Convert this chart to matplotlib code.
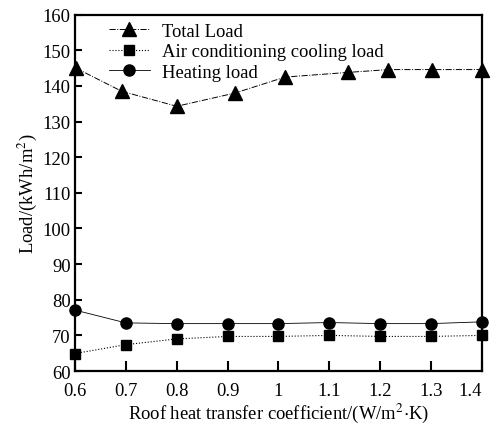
import matplotlib.pyplot as plt

plt.rcParams['font.family'] = ['Liberation Serif', 'DejaVu Serif']
plt.rcParams['mathtext.fontset'] = 'stix'

# data
x_ticks = [0.6, 0.7, 0.8, 0.9, 1.0, 1.1, 1.2, 1.3, 1.4]
x_tick_labels = ['0.6', '0.7', '0.8', '0.9', '1', '1.1', '1.2', '1.3', '1.4']
x_total = [0.602, 0.692, 0.80, 0.914, 1.013, 1.136, 1.216, 1.301, 1.4]
total_load = [145.0, 138.5, 134.3, 138.0, 142.5, 143.8, 144.6, 144.6, 144.6]
x_cool = [0.6, 0.7, 0.8, 0.9, 1.0, 1.1, 1.2, 1.3, 1.4]
cooling_load = [64.9, 67.4, 69.0, 69.7, 69.7, 70.0, 69.7, 69.7, 70.0]
x_heat = [0.6, 0.7, 0.8, 0.9, 1.0, 1.1, 1.2, 1.3, 1.4]
heating_load = [77.1, 73.5, 73.3, 73.3, 73.3, 73.6, 73.3, 73.3, 73.8]

fs = 13.4

fig = plt.figure(figsize=(4.91, 4.27), dpi=100)
ax = fig.add_axes([0.1527, 0.1288, 0.829, 0.8344])

ax.plot(x_total, total_load, linestyle='-.', color='black', linewidth=0.7,
        marker='^', markersize=10.5, label='Total Load', clip_on=False)
ax.plot(x_cool, cooling_load, linestyle=':', color='black', linewidth=0.8,
        marker='s', markersize=7.5, label='Air conditioning cooling load', clip_on=False)
ax.plot(x_heat, heating_load, linestyle='-', color='black', linewidth=0.6,
        marker='o', markersize=8, label='Heating load', clip_on=False)

ax.set_xlim(0.6, 1.4)
ax.set_ylim(60, 160)
ax.set_xticks(x_ticks)
ax.set_xticklabels(x_tick_labels)
ax.set_yticks(range(60, 161, 10))
ax.tick_params(direction='in', labelsize=fs, width=1.5, top=False, right=False)
ax.tick_params(axis='x', length=7, pad=8)
ax.tick_params(axis='y', length=5, pad=3)
# last label sits inside the right edge, as in the original
ax.get_xticklabels()[-1].set_horizontalalignment('right')
for s in ax.spines.values():
    s.set_linewidth(1.6)

ax.set_xlabel('Roof heat transfer coefficient/(W/m$^2$$\\cdot$K)', fontsize=fs, labelpad=1)
ax.set_ylabel('Load/(kWh/m$^2$)', fontsize=fs, labelpad=3)

ax.legend(loc='upper left', frameon=False, fontsize=fs, handlelength=2.2,
          labelspacing=0.18, borderaxespad=0.0, bbox_to_anchor=(0.065, 0.998),
          handletextpad=0.65)

fig.savefig('out.png', dpi=100)
